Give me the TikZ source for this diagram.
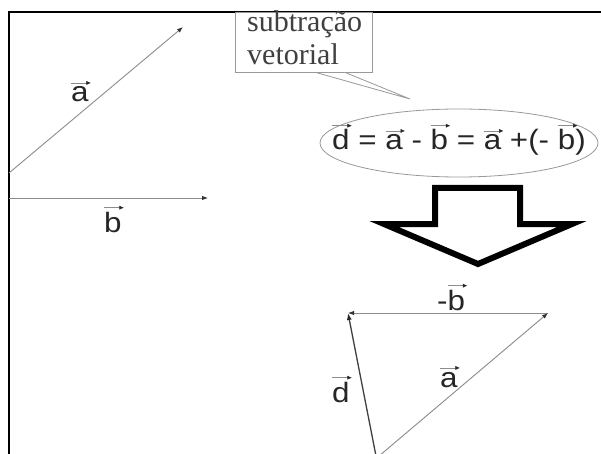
\documentclass[tikz,border=0pt]{standalone}
\usepackage{fontspec}
\setmainfont[FakeStretch=1.12]{Liberation Sans}
\newfontfamily\callfont{Liberation Serif}
\usetikzlibrary{arrows.meta,shapes.geometric}
\newdimen\vaw
\newdimen\vah
\newcommand\va[1]{\leavevmode\setbox0\hbox{#1}\vaw=\wd0\relax\vah=\ht0\relax\rlap{\raisebox{\dimexpr\vah+2pt\relax}{\tikz\draw[line width=0.5pt,draw=black!45,-{Latex[length=4.5pt,width=4pt,color=black!85]}](0pt,0pt)--(\vaw+2pt,0pt);}}\box0\relax}
\tikzset{
  vec/.style={draw=black!45,line width=0.9pt,-{Latex[length=6pt,width=4.5pt,color=black!80]}},
  vecd/.style={draw=black!75,line width=1.3pt,-{Latex[length=7pt,width=5pt,color=black!85]}},
  lbl/.style={inner sep=0pt,text=black!85,font=\fontsize{28}{32}\selectfont},
  calltxt/.style={inner sep=0pt,text=black!75,font=\callfont\fontsize{30}{33}\selectfont},
  callbox/.style={draw=black!40,line width=0.8pt,inner sep=0pt},
}
\begin{document}
\begin{tikzpicture}[x=1pt,y=-1pt]
\useasboundingbox (0,0) rectangle (601,454);
\fill[white] (0,0) rectangle (601,454);
% frame
\draw[line width=2.2pt,black] (9,456) -- (9,12) -- (602,12);
% left vectors
\coordinate (a0) at (9,173);
\coordinate (a1) at (183,27);
\coordinate (b0) at (9,198);
\coordinate (b1) at (208,198);
\draw[vec] (a0) -- (a1);
\draw[vec] (b0) -- (b1);
\node[lbl,anchor=base west] (la) at (71,102) {\va{a}};
\node[lbl,anchor=base west] (lb) at (104,232) {\va{b}};
% callout
\node[callbox,anchor=north west,minimum width=137pt,minimum height=60pt] (call) at (235,12) {};
\node[calltxt,anchor=base west] (t1) at (247,32) {subtração};
\node[calltxt,anchor=base west] (t2) at (247,65) {vetorial};
\coordinate (tip) at (410,99);
\draw[draw=black!40,line width=0.8pt] ([xshift=82pt]call.south west) -- (tip) -- ([xshift=111pt]call.south west);
% ellipse with equation
\node[ellipse,draw=black!40,line width=0.8pt,minimum width=278pt,minimum height=68pt,inner sep=0pt] (ell) at (459,143) {};
\node[lbl,anchor=base] (eq) at (459,150) {\va{d} = \va{a} - \va{b} = \va{a} +(- \va{b})};
% big arrow
\draw[line width=6pt,black,line join=miter] (435,188) -- (520,188) -- (520,224) -- (572,224) -- (478,264) -- (384,224) -- (435,224) -- cycle;
% triangle
\coordinate (P1) at (348,313);
\coordinate (P2) at (548,313);
\coordinate (P3) at (376,456);
\coordinate (P4) at (379,456);
\draw[vec] (P2) -- (P1);
\draw[vec] (P4) -- (P2);
\draw[vecd] (P3) -- (P1);
\node[lbl,anchor=base west] (lmb) at (437,310) {-\va{b}};
\node[lbl,anchor=base west] (lta) at (440,387) {\va{a}};
\node[lbl,anchor=base west] (ltd) at (332,402) {\va{d}};
\end{tikzpicture}
\end{document}
